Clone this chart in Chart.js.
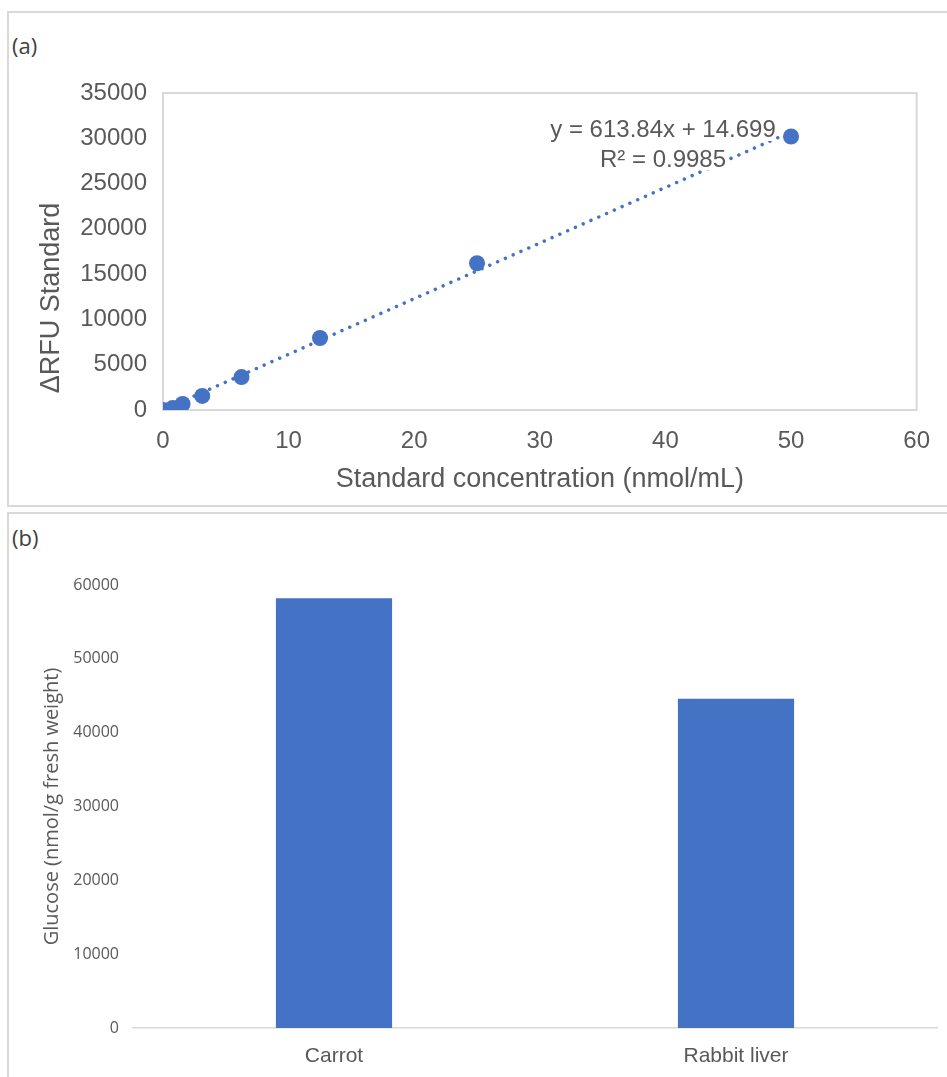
<!DOCTYPE html>
<html><head><meta charset="utf-8">
<script src="https://cdn.jsdelivr.net/npm/chart.js@4/dist/chart.umd.min.js"></script>
<style>
html,body{margin:0;padding:0;background:#fff;overflow:hidden;width:947px;height:1077px;position:relative;}
.panel{position:absolute;border:2px solid #d9d9d9;box-sizing:border-box;}
#pa{left:7px;top:11px;width:960px;height:496px;}
#pb{left:7px;top:512px;width:960px;height:600px;}
.lbl{position:absolute;font-family:'Open Sans',sans-serif;font-size:22px;color:#404040;line-height:30px;}
#ca{position:absolute;left:0;top:0;width:947px;height:505px;}
#cb{position:absolute;left:0;top:510px;width:947px;height:567px;}
</style></head>
<body>
<div class="panel" id="pa"></div>
<div class="panel" id="pb"></div>
<div class="lbl" style="left:12px;top:30px">(a)</div>
<div class="lbl" style="left:12px;top:522px">(b)</div>
<canvas id="ca" width="947" height="505"></canvas>
<canvas id="cb" width="947" height="567"></canvas>
<script>
// ---- Panel (a) data ----
const stdConc = [0, 0.78, 1.56, 3.125, 6.25, 12.5, 25, 50];
const deltaRFU = [0, 220, 660, 1550, 3640, 7950, 16200, 30200];
const trendSlope = 613.84;
const trendIntercept = 14.699;
const trendR2 = '0.9985';
const xTickStep = 10;
const yTickStepA = 5000;

// ---- Panel (b) data ----
const samples = ['Carrot', 'Rabbit liver'];
const glucose = [58200, 44600];
const yTickStepB = 10000;

const BLUE = '#4472C4';
const GREY = '#595959';
const ARIAL = "'Liberation Sans', Arial, sans-serif";
const OPEN = "'Open Sans', sans-serif";
const plain = v => String(v);

const scatterPts = stdConc.map((x, i) => ({x: x, y: deltaRFU[i]}));
const xEnd = stdConc[stdConc.length - 1];
const trendPts = [
  {x: 0, y: trendIntercept},
  {x: xEnd, y: trendSlope * xEnd + trendIntercept}
];

const panelAPlugin = {
  id: 'panelA',
  beforeDatasetsDraw(chart) {
    const {ctx, chartArea: a} = chart;
    ctx.save();
    ctx.strokeStyle = '#d9d9d9';
    ctx.lineWidth = 2;
    ctx.strokeRect(a.left, a.top, a.right - a.left, a.bottom - a.top);
    // y axis title
    ctx.translate(52, 298);
    ctx.rotate(-Math.PI / 2);
    ctx.fillStyle = GREY;
    ctx.font = "27px " + ARIAL;
    ctx.textAlign = 'center';
    ctx.textBaseline = 'middle';
    ctx.fillText('\u0394RFU Standard', 0, 0);
    ctx.restore();
  },
  afterDatasetsDraw(chart) {
    const {ctx, chartArea: a} = chart;
    const cx = a.left + 500;
    const l1 = 'y = ' + trendSlope + 'x + ' + trendIntercept;
    const l2 = 'R\u00B2 = ' + trendR2;
    ctx.save();
    ctx.font = "24px " + ARIAL;
    ctx.textAlign = 'center';
    ctx.textBaseline = 'middle';
    const w1 = ctx.measureText(l1).width;
    const w2 = ctx.measureText(l2).width;
    ctx.fillStyle = '#ffffff';
    ctx.fillRect(cx - w1 / 2, a.top + 26, w1, 22);
    ctx.fillRect(cx - w2 / 2, a.top + 56, w2, 21);
    ctx.fillStyle = GREY;
    ctx.fillText(l1, cx, a.top + 37);
    ctx.fillText(l2, cx, a.top + 67);
    ctx.restore();
  }
};

new Chart(document.getElementById('ca'), {
  type: 'scatter',
  data: {
    datasets: [
      {
        data: trendPts, showLine: true, pointRadius: 0,
        borderColor: BLUE, borderWidth: 3.5, borderDash: [0.01, 8.5],
        borderCapStyle: 'round', order: 2
      },
      {
        data: scatterPts, pointRadius: 8, pointBackgroundColor: BLUE,
        pointBorderWidth: 0, borderColor: BLUE, order: 1
      }
    ]
  },
  options: {
    responsive: false, animation: false,
    layout: {padding: {left: 0, right: 17, top: 93, bottom: 0}},
    plugins: {legend: {display: false}, tooltip: {enabled: false}},
    scales: {
      x: {
        type: 'linear', min: 0, max: 60,
        grid: {display: false, drawTicks: false}, border: {display: false},
        ticks: {stepSize: xTickStep, padding: 17, color: GREY, font: {family: ARIAL, size: 24}, callback: plain},
        title: {display: true, text: 'Standard concentration (nmol/mL)', color: GREY,
                font: {family: ARIAL, size: 27}, padding: {top: 0, bottom: 9}},
        afterFit(s) { s.height = 95; }
      },
      y: {
        min: 0, max: 35000,
        grid: {display: false, drawTicks: false}, border: {display: false},
        ticks: {stepSize: yTickStepA, padding: 16, color: GREY, font: {family: ARIAL, size: 24}, callback: plain},
        afterFit(s) { s.width = 163; }
      }
    }
  },
  plugins: [panelAPlugin]
});

new Chart(document.getElementById('cb'), {
  type: 'bar',
  data: {
    labels: samples,
    datasets: [{
      data: glucose, backgroundColor: BLUE, borderWidth: 0,
      barPercentage: 0.289, categoryPercentage: 1
    }]
  },
  options: {
    responsive: false, animation: false,
    layout: {padding: {left: 0, right: 10, top: 75, bottom: 0}},
    plugins: {legend: {display: false}, tooltip: {enabled: false}},
    scales: {
      x: {
        grid: {display: false, drawTicks: false},
        border: {display: true, color: '#d9d9d9', width: 1.5},
        ticks: {padding: 16, color: GREY, font: {family: ARIAL, size: 21}},
        afterFit(s) { s.height = 49; }
      },
      y: {
        min: 0, max: 60000,
        grid: {display: false, drawTicks: false}, border: {display: false},
        ticks: {stepSize: yTickStepB, padding: 14, color: GREY, font: {family: OPEN, size: 16}, callback: plain},
        title: {display: true, text: 'Glucose (nmol/g fresh weight)', color: GREY,
                font: {family: OPEN, size: 20}, padding: {top: 40, bottom: 0}},
        afterFit(s) { s.width = 133; }
      }
    }
  }
});
</script>
</body></html>
